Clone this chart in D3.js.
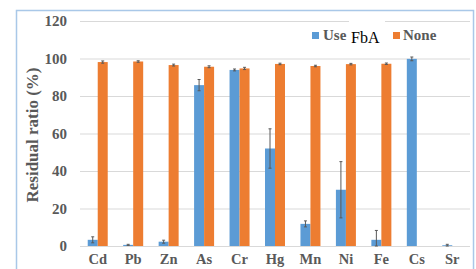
<!DOCTYPE html>
<html>
<head>
<meta charset="utf-8">
<script src="https://cdn.jsdelivr.net/npm/d3@7"></script>
<style>
  html, body { margin: 0; padding: 0; background: #fff; }
  svg { display: block; }
  .sf { font-family: "Liberation Serif", "Times New Roman", "DejaVu Serif", serif; }
</style>
</head>
<body>
<script>
// values
var elements = ["Cd", "Pb", "Zn", "As", "Cr", "Hg", "Mn", "Ni", "Fe", "Cs", "Sr"];
var useFbA    = [3.3, 0.6, 2.3, 85.8, 93.9, 52.0, 11.8, 30.0, 3.3, 99.8, 0.4];
var useFbAErr = [1.6, 0.3, 0.8, 3.0, 0.5, 10.5, 1.6, 15.0, 5.0, 1.0, 0.5];
var none      = [98.1, 98.4, 96.5, 95.6, 94.7, 97.1, 96.0, 97.0, 97.2, 0, 0];
var noneErr   = [0.6, 0.4, 0.5, 0.5, 0.6, 0.4, 0.4, 0.4, 0.4, 0, 0];
var yTicks = [0, 20, 40, 60, 80, 100, 120];

var W = 476, H = 269;
var blue = "#5B9BD5", orange = "#ED7D31";

var svg = d3.select("body").append("svg")
    .attr("width", W)
    .attr("height", H);

// chart frame
svg.append("rect")
    .attr("x", 16.5).attr("y", 10.5)
    .attr("width", 457).attr("height", 280)
    .attr("fill", "#fff")
    .attr("stroke", "#A9C8E8")
    .attr("stroke-width", 1.5);

var x = d3.scaleBand().domain(elements).range([80, 470]).padding(0);
var y = d3.scaleLinear().domain([0, 120]).range([246, 21]);
var series = [
  { key: "Use FbA", values: useFbA, err: useFbAErr, color: blue },
  { key: "None", values: none, err: noneErr, color: orange }
];
var bw = x.bandwidth();
var x1 = d3.scaleBand().domain(series.map(function(s) { return s.key; }))
    .range([bw / 2 - 10, bw / 2 + 10]);

// gridlines
svg.append("g")
    .attr("transform", "translate(80,0)")
    .call(d3.axisLeft(y).tickValues(yTicks).tickSize(-390).tickFormat(""))
    .call(function(g) {
      g.select(".domain").remove();
      g.selectAll("line").attr("stroke", "#D9D9D9").attr("stroke-width", 1);
    });

// y tick labels
svg.append("g")
    .attr("transform", "translate(67,0)")
    .call(d3.axisLeft(y).tickValues(yTicks).tickSize(0).tickPadding(0))
    .call(function(g) {
      g.select(".domain").remove();
      g.attr("font-family", null).attr("font-size", null);
      g.selectAll("text")
        .attr("class", "sf")
        .style("font-weight", "bold")
        .style("font-size", "15px")
        .attr("fill", "#595959");
    });

// x labels
svg.append("g")
    .attr("transform", "translate(0,246)")
    .call(d3.axisBottom(x).tickSize(0).tickPadding(0))
    .call(function(g) {
      g.select(".domain").remove();
      g.attr("font-family", null).attr("font-size", null);
      g.selectAll("text")
        .attr("dy", "18px")
        .attr("class", "sf")
        .style("font-weight", "bold")
        .style("font-size", "14.5px")
        .attr("fill", "#595959");
    });

// y title
svg.append("text")
    .attr("class", "sf")
    .attr("transform", "translate(38,135) rotate(-90)")
    .attr("text-anchor", "middle")
    .style("font-weight", "bold")
    .style("font-size", "17px")
    .attr("fill", "#595959")
    .text("Residual ratio (%)");

// bars
var groups = svg.selectAll("g.series")
    .data(series)
  .enter().append("g")
    .attr("class", "series");

groups.selectAll("rect")
    .data(function(s) {
      return elements.map(function(e, i) {
        return { el: e, v: s.values[i], err: s.err[i], key: s.key, color: s.color };
      });
    })
  .enter().append("rect")
    .attr("x", function(d) { return x(d.el) + x1(d.key); })
    .attr("y", function(d) { return y(d.v); })
    .attr("width", x1.bandwidth())
    .attr("height", function(d) { return y(0) - y(d.v); })
    .attr("fill", function(d) { return d.color; });

// error bars
var errs = groups.selectAll("g.err")
    .data(function(s) {
      return elements.map(function(e, i) {
        return { el: e, v: s.values[i], err: s.err[i], key: s.key };
      }).filter(function(d) { return d.v > 0; });
    })
  .enter().append("g")
    .attr("class", "err")
    .attr("stroke", "#595959")
    .attr("stroke-width", 1);

function cx(d) { return x(d.el) + x1(d.key) + x1.bandwidth() / 2; }

errs.append("line")
    .attr("x1", cx).attr("x2", cx)
    .attr("y1", function(d) { return y(Math.max(0, d.v - d.err)); })
    .attr("y2", function(d) { return y(d.v + d.err); });
errs.append("line")
    .attr("x1", function(d) { return cx(d) - 1.5; })
    .attr("x2", function(d) { return cx(d) + 1.5; })
    .attr("y1", function(d) { return y(d.v + d.err); })
    .attr("y2", function(d) { return y(d.v + d.err); });
errs.append("line")
    .attr("x1", function(d) { return cx(d) - 1.5; })
    .attr("x2", function(d) { return cx(d) + 1.5; })
    .attr("y1", function(d) { return y(Math.max(0, d.v - d.err)); })
    .attr("y2", function(d) { return y(Math.max(0, d.v - d.err)); });

// legend
var legend = svg.append("g");
legend.append("rect").attr("x", 349).attr("y", 19).attr("width", 36).attr("height", 26).attr("fill", "#fff");
legend.append("rect").attr("x", 312).attr("y", 32).attr("width", 7).attr("height", 7).attr("fill", blue);
legend.append("text")
    .attr("class", "sf")
    .attr("x", 323).attr("y", 40)
    .style("font-weight", "bold")
    .style("font-size", "15px").attr("fill", "#595959")
    .text("Use");
legend.append("text")
    .attr("class", "sf")
    .attr("x", 351).attr("y", 43)
    .style("font-size", "16px").attr("fill", "#000")
    .text("FbA");
legend.append("rect").attr("x", 393).attr("y", 32).attr("width", 7).attr("height", 7).attr("fill", orange);
legend.append("text")
    .attr("class", "sf")
    .attr("x", 403).attr("y", 40)
    .style("font-weight", "bold")
    .style("font-size", "15px").attr("fill", "#595959")
    .text("None");
</script>
</body>
</html>
